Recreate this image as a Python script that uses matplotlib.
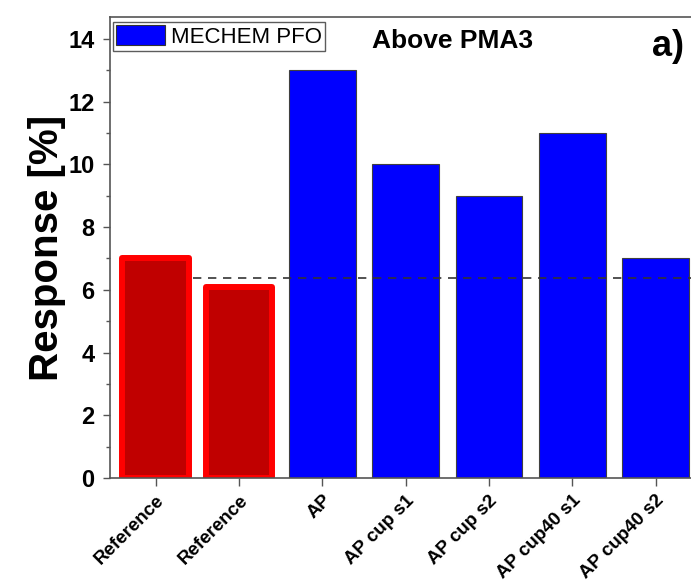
import matplotlib
matplotlib.use('Agg')
import matplotlib.pyplot as plt
from matplotlib.patches import Patch
from matplotlib.ticker import MultipleLocator

plt.rcParams['font.family'] = ['Liberation Sans', 'DejaVu Sans']

labels = ['Reference', 'Reference', 'AP', 'AP cup s1', 'AP cup s2', 'AP cup40 s1', 'AP cup40 s2']
values = [7.0, 6.1, 13.0, 10.0, 9.0, 11.0, 7.0]
is_reference = [True, True, False, False, False, False, False]
baseline = 6.38

W, H = 691, 584
fig = plt.figure(figsize=(W / 100, H / 100), dpi=100)
ax = fig.add_axes([110 / W, 1 - 478 / H, 583 / W, (478 - 17) / H])

x = list(range(len(values)))
for xi, v, ref in zip(x, values, is_reference):
    if ref:
        ax.bar(xi, v, width=0.8, color='#C00000', edgecolor='#FF0000', linewidth=4.3,
               joinstyle='round', zorder=2)
    else:
        ax.bar(xi, v, width=0.8, color='#0000FF', edgecolor='#404040', linewidth=0.8, zorder=2)

ax.hlines(baseline, 0.45, 7.0, colors='#333333', linestyles=(0, (5, 4)), linewidth=1.2, zorder=3)

ax.set_xlim(-0.55, 6.45)
ax.set_ylim(0, 14.7)
ax.set_xticks(x)
ax.set_xticklabels(labels, rotation=45, ha='right', va='top', rotation_mode='anchor',
                   fontsize=13.5, fontweight='bold')
ax.yaxis.set_major_locator(MultipleLocator(2))
ax.yaxis.set_minor_locator(MultipleLocator(1))
for lab in ax.get_yticklabels():
    lab.set_fontweight('bold')
ax.tick_params(axis='y', labelsize=17, direction='out', length=5, width=1, color='#555555', pad=6)
ax.tick_params(axis='y', which='minor', length=3, width=1, color='#555555')
ax.tick_params(axis='x', direction='out', length=6, width=1, color='#555555', pad=4)

for side in ['left', 'top', 'bottom']:
    ax.spines[side].set_color('#555555')
    ax.spines[side].set_linewidth(1.2)
ax.spines['right'].set_visible(False)

ax.set_ylabel('Response [%]', fontsize=29, fontweight='bold', labelpad=2)

handle = Patch(facecolor='#0000FF', edgecolor='#333333', linewidth=0.8)
leg = ax.legend([handle], ['MECHEM PFO'], loc='upper left', bbox_to_anchor=(3 / 583, 1 - 5 / 461),
                fontsize=16, frameon=True, fancybox=False, handlelength=2.2, handleheight=1.0,
                borderpad=0.15, handletextpad=0.25, borderaxespad=0.0)
leg.get_frame().set_edgecolor('#333333')
leg.get_frame().set_linewidth(1.0)

fig.text(372 / W, 1 - 41 / H, 'Above PMA3', fontsize=19, fontweight='bold',
         ha='left', va='center')
fig.text(652 / W, 1 - 47 / H, 'a)', fontsize=26, fontweight='bold',
         ha='left', va='center')

fig.savefig('out.png', dpi=100)
